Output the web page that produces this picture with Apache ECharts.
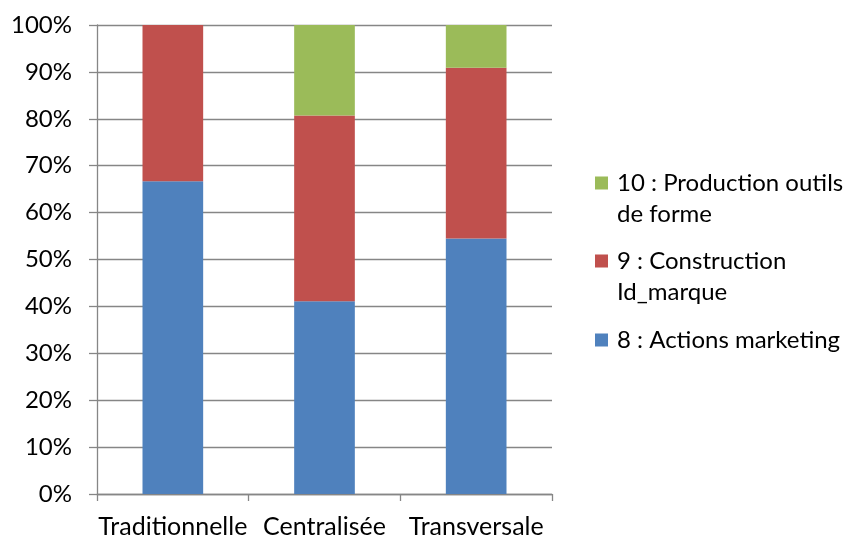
<!DOCTYPE html>
<html>
<head>
<meta charset="utf-8">
<script src="https://cdn.jsdelivr.net/npm/echarts@6/dist/echarts.min.js"></script>
<style>
html,body{margin:0;padding:0;background:#fff;}
#chart{width:855px;height:543px;}
</style>
</head>
<body>
<div id="chart"></div>
<script>
var categories = ['Traditionnelle', 'Centralisée', 'Transversale'];
var seriesNames = ['8 : Actions marketing', '9 : Construction Id_marque', '10 : Production outils de forme'];
var actionsMarketing = [66.7, 41.1, 54.5];
var constructionIdMarque = [33.3, 39.6, 36.4];
var productionOutils = [0, 19.3, 9.1];
var yTicks = [0, 10, 20, 30, 40, 50, 60, 70, 80, 90, 100];

var FONT = 'Lato';
var colors = ['#4F81BD', '#C0504D', '#9BBB59'];
var legendLabels = {};
legendLabels[seriesNames[0]] = '8 : Actions marketing';
legendLabels[seriesNames[1]] = '9 : Construction\nId_marque';
legendLabels[seriesNames[2]] = '10 : Production outils\nde forme';

// tall icon with square at top, so the square aligns with the first text line
var SQ = 13;
var LH = 31;
var tallH = 2 * LH - (LH - SQ); // square centred on first line of a 2-line block
var tallIcon = 'path://M0,0L' + SQ + ',0L' + SQ + ',' + SQ + 'L0,' + SQ + 'Z M0,' + tallH + 'L0.001,' + tallH + 'L0,' + tallH + 'Z';

function mkLegend(name, top, twoLine) {
  return {
    data: [name],
    orient: 'vertical',
    left: 595,
    top: top,
    padding: 0,
    itemWidth: SQ,
    itemHeight: twoLine ? tallH : SQ,
    icon: twoLine ? tallIcon : 'rect',
    selectedMode: false,
    formatter: function (n) { return legendLabels[n]; },
    textStyle: { fontFamily: FONT, fontSize: 24, color: '#000', lineHeight: LH, padding: [0, 0, 0, 4] }
  };
}

var chart = echarts.init(document.getElementById('chart'));
chart.setOption({
  animation: false,
  backgroundColor: '#fff',
  color: colors,
  grid: { left: 97, right: 303, top: 25, bottom: 49, containLabel: false },
  legend: [
    mkLegend(seriesNames[2], 183 - LH / 2, true),
    mkLegend(seriesNames[1], 261 - LH / 2, true),
    mkLegend(seriesNames[0], 340 - LH / 2, false)
  ],
  xAxis: {
    type: 'category',
    data: categories,
    axisLine: { show: true, lineStyle: { color: '#868686', width: 1.3 } },
    axisTick: { show: true, alignWithLabel: false, length: 7, lineStyle: { color: '#868686', width: 1.3 } },
    axisLabel: { fontFamily: FONT, fontSize: 25, color: '#000', margin: 20, interval: 0 },
    splitLine: { show: false }
  },
  yAxis: {
    type: 'value',
    min: yTicks[0],
    max: yTicks[yTicks.length - 1],
    interval: yTicks[1] - yTicks[0],
    axisLine: { show: true, lineStyle: { color: '#868686', width: 1.3 } },
    axisTick: { show: true, length: 8, lineStyle: { color: '#868686', width: 1.3 } },
    axisLabel: { fontFamily: FONT, fontSize: 24, color: '#000', margin: 25, formatter: '{value}%' },
    splitLine: { show: true, lineStyle: { color: '#868686', width: 1.3 } }
  },
  series: [
    { name: seriesNames[0], type: 'bar', stack: 'total', barWidth: '40%', data: actionsMarketing, itemStyle: { color: colors[0] } },
    { name: seriesNames[1], type: 'bar', stack: 'total', barWidth: '40%', data: constructionIdMarque, itemStyle: { color: colors[1] } },
    { name: seriesNames[2], type: 'bar', stack: 'total', barWidth: '40%', data: productionOutils, itemStyle: { color: colors[2] } }
  ]
});
</script>
</body>
</html>
